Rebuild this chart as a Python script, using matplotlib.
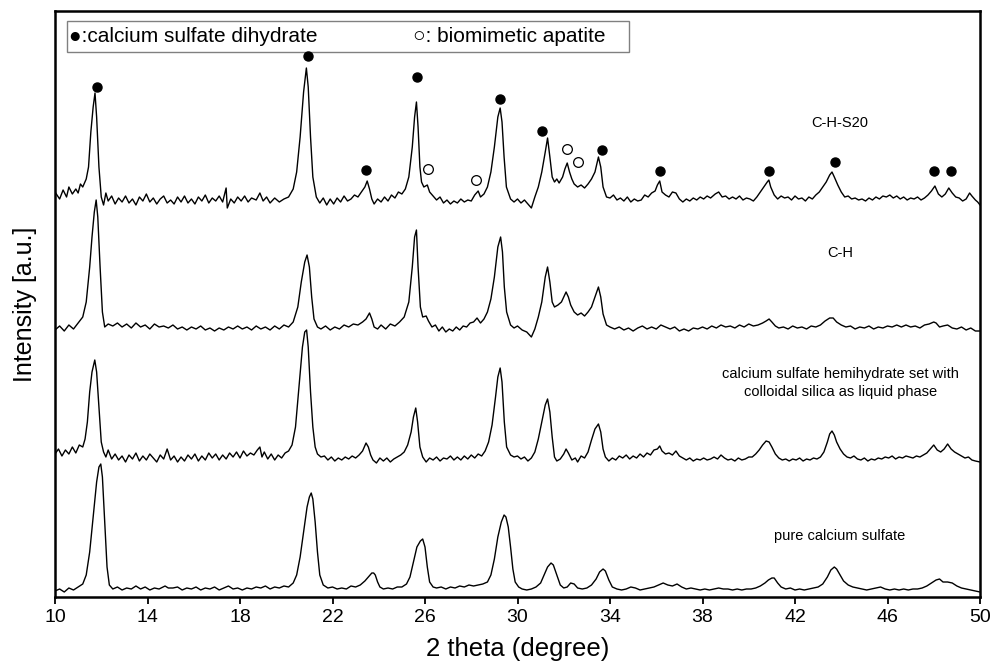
import numpy as np
import matplotlib
matplotlib.use("Agg")
import matplotlib.pyplot as plt
from matplotlib.patches import Rectangle

plt.rcParams['font.family'] = ['Liberation Sans', 'DejaVu Sans']

# XRD traces: (2 theta, intensity in a.u.), traces already offset
cahs20 = [
    (10.0, 405), (10.2, 398), (10.35, 407), (10.5, 400), (10.6, 410), (10.75, 403), (10.9, 408),
    (11.0, 404), (11.1, 413), (11.2, 410), (11.35, 418), (11.45, 430), (11.55, 465), (11.65, 490),
    (11.73, 504), (11.8, 480), (11.9, 430), (12.0, 400), (12.1, 392), (12.2, 404), (12.3, 396),
    (12.45, 401), (12.6, 393), (12.75, 399), (12.9, 395), (13.05, 401), (13.2, 394), (13.35, 398),
    (13.5, 392), (13.65, 400), (13.8, 396), (13.95, 403), (14.1, 395), (14.25, 399), (14.4, 393),
    (14.55, 398), (14.7, 401), (14.85, 394), (15.0, 397), (15.15, 393), (15.3, 400), (15.45, 395),
    (15.6, 401), (15.75, 394), (15.9, 398), (16.05, 393), (16.2, 400), (16.35, 396), (16.5, 402),
    (16.65, 394), (16.8, 399), (16.95, 396), (17.1, 401), (17.25, 395), (17.4, 409), (17.45, 389),
    (17.6, 398), (17.75, 394), (17.9, 400), (18.05, 396), (18.2, 401), (18.35, 395), (18.5, 399),
    (18.7, 397), (18.86, 404), (19.0, 396), (19.15, 400), (19.3, 394), (19.5, 399), (19.7, 395),
    (19.9, 398), (20.1, 400), (20.3, 408), (20.45, 425), (20.6, 460), (20.75, 505), (20.87, 529),
    (20.95, 510), (21.05, 460), (21.15, 420), (21.3, 400), (21.45, 394), (21.6, 399), (21.75, 392),
    (21.9, 398), (22.05, 393), (22.2, 399), (22.35, 395), (22.5, 401), (22.65, 396), (22.8, 398),
    (22.95, 402), (23.1, 400), (23.25, 405), (23.4, 410), (23.5, 416), (23.6, 408), (23.7, 398),
    (23.8, 393), (23.95, 398), (24.1, 395), (24.25, 400), (24.4, 396), (24.55, 402), (24.7, 399),
    (24.85, 405), (25.0, 403), (25.15, 408), (25.3, 420), (25.45, 450), (25.55, 480), (25.63, 495),
    (25.7, 470), (25.78, 430), (25.85, 415), (25.95, 410), (26.1, 412), (26.2, 405), (26.35, 401),
    (26.5, 397), (26.65, 400), (26.8, 394), (26.95, 397), (27.1, 393), (27.25, 396), (27.4, 394),
    (27.55, 398), (27.7, 395), (27.85, 397), (28.0, 396), (28.15, 402), (28.3, 406), (28.4, 400),
    (28.55, 403), (28.7, 410), (28.85, 425), (29.0, 450), (29.15, 480), (29.25, 489), (29.33, 475),
    (29.42, 440), (29.52, 410), (29.7, 398), (29.85, 395), (30.0, 398), (30.15, 394), (30.3, 397),
    (30.45, 393), (30.6, 389), (30.75, 400), (30.9, 410), (31.05, 425), (31.2, 445), (31.3, 459),
    (31.4, 440), (31.5, 420), (31.6, 415), (31.7, 418), (31.8, 414), (31.95, 420), (32.05, 428),
    (32.15, 434), (32.25, 425), (32.35, 418), (32.45, 413), (32.6, 410), (32.75, 412), (32.9, 409),
    (33.05, 413), (33.2, 418), (33.35, 425), (33.5, 440), (33.6, 430), (33.7, 410), (33.85, 400),
    (34.0, 399), (34.15, 402), (34.3, 397), (34.45, 399), (34.6, 396), (34.75, 400), (34.9, 395),
    (35.05, 398), (35.2, 396), (35.35, 397), (35.5, 402), (35.65, 400), (35.8, 404), (35.95, 406),
    (36.05, 412), (36.15, 416), (36.25, 405), (36.4, 402), (36.55, 400), (36.7, 405), (36.85, 404),
    (37.0, 398), (37.15, 395), (37.3, 398), (37.45, 396), (37.6, 399), (37.75, 397), (37.9, 400),
    (38.05, 398), (38.2, 401), (38.35, 399), (38.55, 403), (38.7, 405), (38.85, 400), (39.0, 401),
    (39.15, 398), (39.3, 400), (39.45, 398), (39.6, 401), (39.75, 397), (39.9, 399), (40.05, 398),
    (40.2, 396), (40.35, 400), (40.5, 405), (40.65, 410), (40.8, 415), (40.87, 417), (40.95, 410),
    (41.1, 402), (41.25, 398), (41.4, 401), (41.55, 399), (41.7, 400), (41.85, 397), (42.0, 401),
    (42.15, 398), (42.3, 399), (42.45, 396), (42.6, 400), (42.75, 398), (42.9, 402), (43.05, 405),
    (43.2, 410), (43.35, 415), (43.5, 422), (43.6, 425), (43.7, 420), (43.85, 412), (44.0, 405),
    (44.15, 400), (44.3, 401), (44.45, 398), (44.6, 399), (44.75, 397), (44.9, 398), (45.05, 396),
    (45.2, 399), (45.35, 397), (45.5, 400), (45.65, 398), (45.8, 401), (45.95, 400), (46.1, 402),
    (46.25, 399), (46.4, 401), (46.55, 398), (46.7, 400), (46.85, 397), (47.0, 399), (47.15, 398),
    (47.3, 400), (47.45, 397), (47.6, 399), (47.75, 402), (47.9, 406), (48.05, 411), (48.2, 403),
    (48.35, 400), (48.5, 403), (48.65, 409), (48.8, 404), (48.95, 400), (49.1, 399), (49.25, 396),
    (49.4, 398), (49.55, 404), (49.65, 401), (49.8, 397), (49.9, 395), (50.0, 392),
]

cah = [
    (10.0, 267), (10.2, 271), (10.4, 266), (10.6, 272), (10.8, 268), (11.0, 274), (11.2, 280),
    (11.35, 295), (11.5, 330), (11.6, 360), (11.7, 385), (11.78, 397), (11.85, 380), (11.95, 330),
    (12.05, 285), (12.15, 270), (12.3, 273), (12.5, 271), (12.7, 274), (12.9, 270), (13.1, 273),
    (13.3, 269), (13.5, 274), (13.7, 270), (13.9, 272), (14.1, 268), (14.3, 273), (14.5, 270),
    (14.7, 271), (14.9, 269), (15.1, 272), (15.3, 268), (15.5, 270), (15.7, 267), (15.9, 270),
    (16.1, 268), (16.3, 271), (16.5, 267), (16.7, 269), (16.9, 266), (17.1, 269), (17.3, 267),
    (17.5, 270), (17.7, 268), (17.9, 271), (18.1, 268), (18.3, 270), (18.5, 267), (18.7, 271),
    (18.9, 268), (19.1, 270), (19.3, 267), (19.5, 271), (19.7, 268), (19.9, 272), (20.1, 270),
    (20.3, 275), (20.5, 290), (20.65, 315), (20.8, 335), (20.9, 342), (21.0, 330), (21.1, 300),
    (21.2, 278), (21.35, 270), (21.5, 268), (21.7, 271), (21.9, 267), (22.1, 270), (22.3, 268),
    (22.5, 272), (22.7, 270), (22.9, 273), (23.1, 272), (23.3, 275), (23.45, 278), (23.6, 284),
    (23.7, 278), (23.8, 270), (23.95, 268), (24.1, 272), (24.3, 268), (24.5, 273), (24.7, 271),
    (24.9, 275), (25.1, 280), (25.3, 295), (25.45, 330), (25.55, 360), (25.63, 367), (25.7, 330),
    (25.8, 290), (25.9, 280), (26.05, 281), (26.15, 276), (26.3, 270), (26.45, 272), (26.6, 266),
    (26.75, 270), (26.9, 265), (27.05, 268), (27.2, 266), (27.35, 270), (27.5, 267), (27.65, 271),
    (27.8, 270), (27.95, 274), (28.1, 275), (28.25, 279), (28.4, 274), (28.55, 278), (28.7, 285),
    (28.85, 298), (29.0, 320), (29.15, 350), (29.27, 360), (29.35, 345), (29.43, 310), (29.53, 285),
    (29.7, 272), (29.85, 269), (30.0, 271), (30.2, 267), (30.4, 265), (30.6, 260), (30.75, 268),
    (30.9, 280), (31.05, 295), (31.2, 320), (31.3, 330), (31.4, 315), (31.5, 295), (31.6, 290),
    (31.75, 292), (31.9, 295), (32.0, 300), (32.1, 305), (32.2, 300), (32.3, 292), (32.45, 285),
    (32.6, 282), (32.75, 284), (32.9, 281), (33.05, 285), (33.2, 290), (33.35, 300), (33.5, 310),
    (33.6, 300), (33.7, 283), (33.85, 272), (34.0, 270), (34.2, 268), (34.4, 270), (34.6, 267),
    (34.8, 269), (35.0, 266), (35.2, 269), (35.4, 271), (35.6, 268), (35.8, 270), (36.0, 268),
    (36.2, 272), (36.4, 270), (36.6, 268), (36.8, 270), (37.0, 266), (37.2, 268), (37.4, 266),
    (37.6, 269), (37.8, 268), (38.0, 270), (38.2, 268), (38.4, 271), (38.6, 269), (38.8, 272),
    (39.0, 270), (39.2, 271), (39.4, 269), (39.6, 272), (39.8, 270), (40.0, 273), (40.2, 271),
    (40.4, 272), (40.6, 274), (40.75, 276), (40.88, 278), (41.0, 275), (41.15, 271), (41.3, 269),
    (41.5, 270), (41.7, 268), (41.9, 271), (42.1, 269), (42.3, 270), (42.5, 268), (42.7, 271),
    (42.9, 270), (43.1, 272), (43.3, 276), (43.5, 279), (43.65, 279), (43.8, 275), (44.0, 272),
    (44.2, 270), (44.4, 271), (44.6, 268), (44.8, 270), (45.0, 269), (45.2, 271), (45.4, 268),
    (45.6, 270), (45.8, 269), (46.0, 271), (46.2, 270), (46.4, 272), (46.6, 270), (46.8, 272),
    (47.0, 270), (47.2, 271), (47.4, 269), (47.6, 272), (47.8, 273), (48.0, 275), (48.1, 274),
    (48.25, 270), (48.4, 271), (48.6, 272), (48.8, 269), (49.0, 268), (49.2, 270), (49.4, 267),
    (49.6, 269), (49.8, 266), (50.0, 266),
]

hemi_silica = [
    (10.0, 143), (10.15, 148), (10.3, 141), (10.45, 147), (10.6, 143), (10.75, 150), (10.9, 144),
    (11.05, 152), (11.2, 150), (11.3, 158), (11.4, 175), (11.5, 205), (11.6, 225), (11.72, 237),
    (11.8, 225), (11.9, 190), (12.0, 155), (12.1, 145), (12.2, 140), (12.3, 147), (12.45, 138),
    (12.6, 143), (12.75, 137), (12.9, 141), (13.05, 135), (13.2, 142), (13.35, 138), (13.5, 144),
    (13.65, 136), (13.8, 141), (13.95, 137), (14.1, 143), (14.25, 139), (14.4, 135), (14.55, 142),
    (14.7, 138), (14.85, 148), (15.0, 137), (15.15, 141), (15.3, 135), (15.45, 140), (15.6, 136),
    (15.75, 142), (15.9, 138), (16.05, 143), (16.2, 136), (16.35, 141), (16.5, 137), (16.65, 144),
    (16.8, 139), (16.95, 143), (17.1, 137), (17.25, 142), (17.4, 138), (17.55, 144), (17.7, 140),
    (17.85, 145), (18.0, 139), (18.15, 146), (18.3, 141), (18.45, 144), (18.6, 142), (18.75, 147),
    (18.86, 150), (18.95, 140), (19.05, 145), (19.2, 138), (19.35, 143), (19.5, 137), (19.65, 142),
    (19.8, 139), (19.95, 144), (20.1, 146), (20.25, 152), (20.4, 170), (20.55, 210), (20.7, 250),
    (20.8, 265), (20.88, 267), (20.95, 250), (21.05, 205), (21.15, 170), (21.25, 150), (21.35, 143),
    (21.5, 140), (21.65, 141), (21.8, 137), (21.95, 140), (22.1, 136), (22.25, 139), (22.4, 137),
    (22.55, 140), (22.7, 138), (22.85, 141), (23.0, 139), (23.15, 142), (23.3, 146), (23.45, 154),
    (23.55, 150), (23.65, 142), (23.75, 137), (23.9, 134), (24.05, 139), (24.2, 136), (24.35, 139),
    (24.5, 135), (24.65, 138), (24.8, 140), (24.95, 142), (25.1, 145), (25.25, 152), (25.4, 165),
    (25.5, 180), (25.6, 189), (25.68, 175), (25.78, 150), (25.9, 140), (26.05, 135), (26.2, 139),
    (26.35, 137), (26.5, 140), (26.65, 136), (26.8, 139), (26.95, 138), (27.1, 141), (27.25, 137),
    (27.4, 140), (27.55, 137), (27.7, 141), (27.85, 138), (28.0, 142), (28.15, 139), (28.3, 143),
    (28.45, 141), (28.6, 146), (28.75, 155), (28.9, 172), (29.05, 200), (29.15, 220), (29.25, 229),
    (29.33, 215), (29.43, 175), (29.53, 150), (29.7, 142), (29.85, 140), (30.0, 141), (30.15, 138),
    (30.3, 140), (30.45, 136), (30.6, 139), (30.75, 145), (30.9, 158), (31.05, 175), (31.2, 192),
    (31.3, 198), (31.4, 185), (31.5, 160), (31.6, 140), (31.7, 136), (31.85, 138), (32.0, 143),
    (32.1, 148), (32.2, 144), (32.35, 137), (32.5, 139), (32.6, 135), (32.75, 141), (32.9, 139),
    (33.05, 145), (33.2, 157), (33.35, 168), (33.5, 173), (33.6, 165), (33.7, 148), (33.8, 140),
    (33.95, 136), (34.1, 139), (34.25, 137), (34.4, 141), (34.55, 139), (34.7, 142), (34.85, 138),
    (35.0, 141), (35.15, 139), (35.3, 143), (35.45, 140), (35.6, 144), (35.75, 142), (35.9, 147),
    (36.05, 148), (36.15, 151), (36.25, 146), (36.4, 143), (36.55, 144), (36.7, 142), (36.85, 146),
    (37.0, 141), (37.15, 139), (37.3, 137), (37.45, 139), (37.6, 136), (37.75, 138), (37.9, 137),
    (38.05, 139), (38.2, 137), (38.35, 138), (38.5, 140), (38.65, 138), (38.8, 142), (38.95, 139),
    (39.1, 137), (39.25, 138), (39.4, 136), (39.55, 139), (39.7, 137), (39.85, 138), (40.0, 140),
    (40.15, 140), (40.3, 143), (40.45, 147), (40.6, 152), (40.75, 156), (40.88, 155), (41.0, 150),
    (41.15, 143), (41.3, 139), (41.45, 137), (41.6, 138), (41.75, 136), (41.9, 138), (42.05, 137),
    (42.2, 139), (42.35, 136), (42.5, 138), (42.65, 137), (42.8, 139), (42.95, 138), (43.1, 140),
    (43.25, 145), (43.4, 155), (43.5, 163), (43.6, 166), (43.7, 162), (43.8, 155), (43.95, 148),
    (44.1, 143), (44.25, 140), (44.4, 139), (44.55, 141), (44.7, 138), (44.85, 137), (45.0, 139),
    (45.15, 136), (45.3, 138), (45.45, 137), (45.6, 139), (45.75, 138), (45.9, 140), (46.05, 139),
    (46.2, 141), (46.35, 138), (46.5, 140), (46.65, 139), (46.8, 141), (46.95, 140), (47.1, 139),
    (47.25, 141), (47.4, 140), (47.55, 142), (47.7, 144), (47.85, 148), (48.0, 152), (48.15, 147),
    (48.3, 145), (48.45, 148), (48.6, 153), (48.75, 148), (48.9, 145), (49.05, 143), (49.2, 141),
    (49.35, 139), (49.5, 140), (49.65, 137), (49.8, 136), (50.0, 135),
]

pure_cs = [
    (10.0, 6), (10.2, 8), (10.4, 5), (10.6, 9), (10.8, 7), (11.0, 10), (11.2, 13), (11.35, 22),
    (11.5, 45), (11.65, 80), (11.8, 115), (11.9, 130), (11.98, 133), (12.05, 120), (12.15, 75),
    (12.25, 30), (12.35, 12), (12.5, 8), (12.7, 10), (12.9, 7), (13.1, 9), (13.3, 8), (13.5, 11),
    (13.7, 8), (13.9, 10), (14.1, 7), (14.3, 9), (14.5, 8), (14.76, 11), (14.9, 9), (15.1, 9),
    (15.3, 10), (15.5, 7), (15.7, 9), (15.9, 8), (16.1, 10), (16.3, 7), (16.5, 9), (16.7, 8),
    (16.9, 10), (17.1, 7), (17.3, 9), (17.5, 11), (17.7, 8), (17.9, 9), (18.1, 7), (18.3, 9),
    (18.5, 8), (18.7, 10), (18.9, 9), (19.1, 11), (19.3, 8), (19.5, 10), (19.7, 9), (19.9, 11),
    (20.1, 10), (20.3, 14), (20.45, 22), (20.6, 40), (20.75, 65), (20.9, 90), (21.0, 100),
    (21.08, 104), (21.15, 98), (21.25, 75), (21.35, 45), (21.45, 22), (21.6, 12), (21.8, 9),
    (22.0, 10), (22.2, 8), (22.4, 9), (22.6, 8), (22.8, 11), (23.0, 10), (23.2, 12), (23.4, 16),
    (23.55, 20), (23.7, 24), (23.78, 24), (23.85, 22), (23.95, 15), (24.05, 10), (24.2, 8),
    (24.4, 9), (24.6, 8), (24.8, 10), (25.0, 10), (25.2, 13), (25.35, 20), (25.5, 35), (25.65, 50),
    (25.8, 56), (25.9, 58), (26.0, 50), (26.1, 30), (26.2, 15), (26.35, 10), (26.5, 9), (26.7, 10),
    (26.9, 8), (27.1, 10), (27.3, 9), (27.5, 11), (27.7, 10), (27.9, 12), (28.1, 11), (28.3, 12),
    (28.5, 13), (28.7, 15), (28.85, 22), (29.0, 38), (29.15, 60), (29.3, 75), (29.42, 82),
    (29.5, 80), (29.6, 70), (29.7, 50), (29.8, 28), (29.9, 15), (30.05, 10), (30.2, 8), (30.4, 7),
    (30.6, 8), (30.8, 10), (31.0, 14), (31.15, 22), (31.3, 30), (31.45, 34), (31.55, 32),
    (31.7, 22), (31.85, 12), (32.0, 9), (32.15, 10), (32.3, 14), (32.45, 13), (32.6, 9), (32.8, 8),
    (33.0, 9), (33.2, 12), (33.4, 18), (33.55, 25), (33.7, 28), (33.8, 26), (33.95, 17), (34.1, 10),
    (34.3, 8), (34.5, 7), (34.7, 8), (34.9, 10), (35.1, 9), (35.3, 7), (35.5, 8), (35.7, 9),
    (35.9, 10), (36.1, 12), (36.3, 14), (36.5, 12), (36.7, 11), (36.9, 13), (37.1, 10), (37.3, 8),
    (37.5, 9), (37.7, 8), (37.9, 7), (38.1, 8), (38.3, 7), (38.5, 8), (38.7, 9), (38.9, 8),
    (39.1, 8), (39.3, 7), (39.5, 8), (39.7, 7), (39.9, 8), (40.1, 8), (40.3, 9), (40.5, 11),
    (40.7, 14), (40.85, 17), (41.0, 19), (41.1, 19), (41.25, 14), (41.4, 10), (41.6, 8), (41.8, 9),
    (42.0, 7), (42.2, 8), (42.4, 7), (42.6, 8), (42.8, 9), (43.0, 10), (43.2, 13), (43.4, 20),
    (43.55, 27), (43.7, 30), (43.8, 28), (43.95, 22), (44.1, 16), (44.3, 12), (44.5, 10),
    (44.7, 9), (44.9, 8), (45.1, 7), (45.3, 8), (45.5, 9), (45.7, 10), (45.9, 8), (46.1, 7),
    (46.3, 8), (46.5, 7), (46.7, 8), (46.9, 7), (47.1, 8), (47.3, 8), (47.5, 9), (47.7, 11),
    (47.9, 14), (48.1, 17), (48.25, 18), (48.4, 15), (48.6, 15), (48.8, 14), (49.0, 11), (49.2, 9),
    (49.4, 8), (49.6, 7), (49.8, 6), (50.0, 5),
]

# peak markers on the top trace
dihydrate_x = [11.82, 20.93, 23.45, 25.64, 29.24, 31.07, 33.64, 36.16, 40.88, 43.73, 48.01, 48.73]
dihydrate_y = [510, 541, 427, 520, 498, 466, 447, 426, 426, 435, 426, 426]
apatite_x = [26.11, 28.2, 32.13, 32.63]
apatite_y = [428, 417, 448, 435]

labels = ["C-H-S20", "C-H",
          "calcium sulfate hemihydrate set with\ncolloidal silica as liquid phase",
          "pure calcium sulfate"]
label_y = [474, 344, 214, 61]

fig = plt.figure(figsize=(9.9, 6.65), dpi=100)
ax = fig.add_axes([55 / 990, 68 / 665, 925 / 990, 586 / 665])

for trace in [cahs20, cah, hemi_silica, pure_cs]:
    arr = np.array(trace)
    ax.plot(arr[:, 0], arr[:, 1], color='black', lw=1.0)

ax.plot(dihydrate_x, dihydrate_y, 'o', ms=6.5, color='black', mec='black')
ax.plot(apatite_x, apatite_y, 'o', ms=7, mfc='white', mec='black', mew=0.9)

for lab, ly in zip(labels, label_y):
    ax.text(43.95, ly, lab, ha='center', va='center', fontsize=10.5, linespacing=1.4)

# legend box at the top
ax.add_patch(Rectangle((0.013, 0.930), 0.6075, 0.053, transform=ax.transAxes,
                       fill=False, edgecolor='#808080', lw=1))
ax.text(0.0155, 0.9565, "●:calcium sulfate dihydrate", transform=ax.transAxes,
        ha='left', va='center', fontsize=15)
ax.text(0.387, 0.9565, "○: biomimetic apatite", transform=ax.transAxes,
        ha='left', va='center', fontsize=15)

ax.set_xlim(10, 50)
ax.set_ylim(0, 586)
ax.set_xticks(np.arange(10, 51, 4))
ax.set_yticks([])
ax.tick_params(axis='x', direction='out', length=5, width=1.3, labelsize=14, pad=4)
for sp in ax.spines.values():
    sp.set_linewidth(1.8)

ax.set_xlabel("2 theta (degree)", fontsize=18.5)
ax.set_ylabel("Intensity [a.u.]", fontsize=18)
ax.xaxis.set_label_coords(0.5, -0.068)
ax.yaxis.set_label_coords(-0.0195, 0.5)

fig.savefig("out.png", dpi=100)
